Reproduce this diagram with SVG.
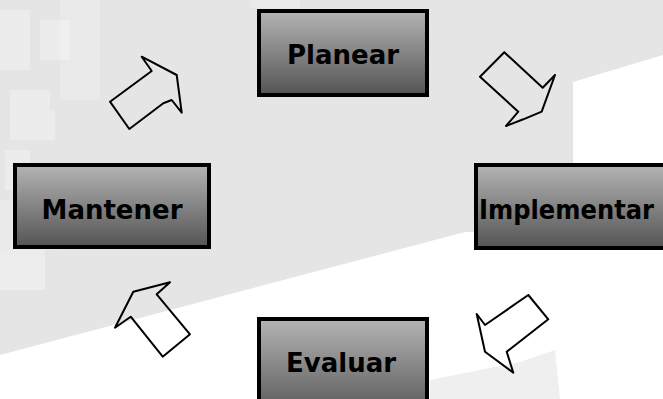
<svg xmlns="http://www.w3.org/2000/svg" width="663" height="399" viewBox="0 0 663 399">
<defs>
<linearGradient id="boxg" x1="0" y1="0" x2="0" y2="1">
<stop offset="0" stop-color="#b4b4b4"/>
<stop offset="1" stop-color="#545454"/>
</linearGradient>
<style>
.box{fill:url(#boxg);stroke:#000;stroke-width:4}
.lbl{font-family:"DejaVu Sans",sans-serif;font-weight:bold;font-size:26px;fill:#000}
.arr{fill:none;stroke:#000;stroke-width:2;stroke-linejoin:round;stroke-linecap:round}
</style>
</defs>
<g id="background">
<rect x="0" y="0" width="663" height="399" fill="#ffffff"/>
<polygon points="0,0 663,0 663,55 573,82 573,232 465,232 0,355" fill="#e5e5e5"/>
<g fill="#ffffff" opacity="0.3">
<rect x="0" y="10" width="30" height="60"/>
<rect x="10" y="90" width="40" height="50"/>
<rect x="5" y="150" width="25" height="40"/>
<rect x="40" y="20" width="30" height="40"/>
<rect x="0" y="250" width="45" height="40"/>
<rect x="30" y="110" width="25" height="30"/>
</g>
<g fill="#ffffff" opacity="0.2">
<rect x="60" y="0" width="40" height="100"/>
<rect x="0" y="200" width="60" height="50"/>
<rect x="250" y="0" width="50" height="8"/>
</g>
<polygon points="430,380 520,362 555,350 560,399 430,399" fill="#efefef"/>
</g>
<g id="connectors">
<polyline class="arr" points="141.7,56.7 151.7,71 110,101.7 129.3,129 163.3,103.3 171.7,100 181.7,112.7 176.7,75 141.7,56.7"/>
<polyline class="arr" points="504.3,52.3 480,76.7 518.3,111.7 506,126 523.3,119.3 541.7,111.7 555,75 542.7,87.7 504.3,52.3"/>
<polyline class="arr" points="528.3,295 548.3,319.3 506.7,351.7 513.3,372.7 485,351.7 476.7,314 485,325 528.3,295"/>
<polyline class="arr" points="170,282.3 133.3,291.7 115,327.7 130.7,316.7 162.7,356.7 190,334.3 156.7,294.3 170,282.3"/>
</g>
<g id="planear">
<rect class="box" x="259" y="11" width="168" height="84"/>
<text class="lbl" x="343" y="64" text-anchor="middle">Planear</text>
</g>
<g id="implementar">
<rect class="box" x="476" y="165" width="200" height="83"/>
<text class="lbl" x="479" y="219" textLength="175" lengthAdjust="spacingAndGlyphs">Implementar</text>
</g>
<g id="evaluar">
<rect class="box" x="259" y="319" width="168" height="100"/>
<text class="lbl" x="341" y="372" text-anchor="middle">Evaluar</text>
</g>
<g id="mantener">
<rect class="box" x="15" y="165" width="194" height="82"/>
<text class="lbl" x="112" y="219" text-anchor="middle">Mantener</text>
</g>
</svg>
